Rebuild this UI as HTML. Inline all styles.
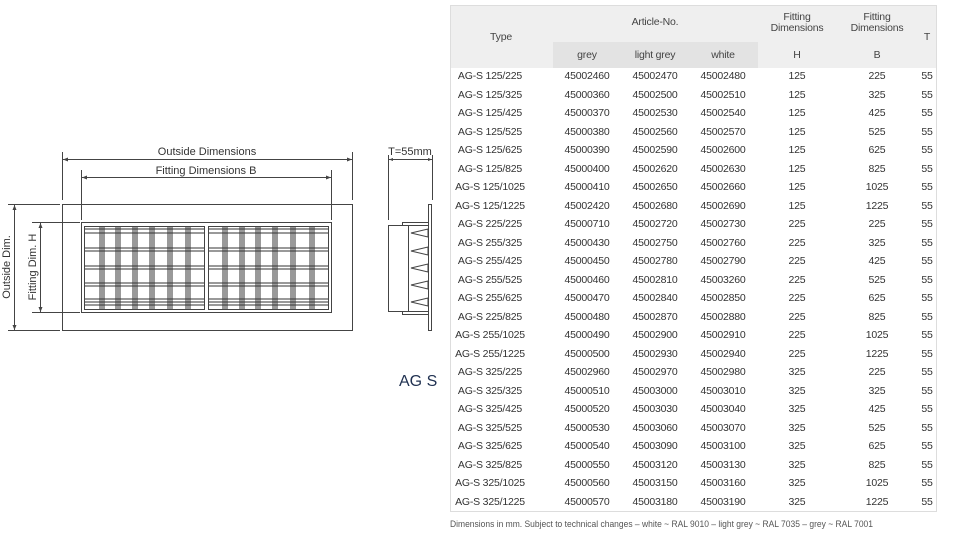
<!DOCTYPE html>
<html><head><meta charset="utf-8"><style>
body{margin:0;width:975px;height:538px;background:#fff;position:relative;overflow:hidden;font-family:"Liberation Sans",sans-serif}
.c{position:absolute;width:80px;text-align:center;font-size:10.5px;color:#333;line-height:12px;letter-spacing:-0.2px}
.h{color:#444}
</style></head><body>
<svg width="975" height="538" style="position:absolute;left:0;top:0" font-family="Liberation Sans, sans-serif">
<g stroke="#444" fill="none" stroke-width="1">
<rect x="62.5" y="204.5" width="290" height="126"/>
<rect x="81.5" y="222.5" width="250" height="90"/>
<rect x="84.5" y="226.5" width="120" height="83"/>
<rect x="208.5" y="226.5" width="120" height="83"/>
<line x1="62.5" y1="152" x2="62.5" y2="200"/><line x1="352.5" y1="152" x2="352.5" y2="200"/>
<line x1="63" y1="159.5" x2="352" y2="159.5"/>
<line x1="81.5" y1="170" x2="81.5" y2="220"/><line x1="331.5" y1="170" x2="331.5" y2="220"/>
<line x1="82" y1="177.5" x2="331" y2="177.5"/>
<line x1="8" y1="204.5" x2="60" y2="204.5"/><line x1="8" y1="330.5" x2="60" y2="330.5"/>
<line x1="14.5" y1="205" x2="14.5" y2="330"/>
<line x1="32" y1="222.5" x2="80" y2="222.5"/><line x1="32" y1="312.5" x2="80" y2="312.5"/>
<line x1="40.5" y1="223" x2="40.5" y2="312"/>
<line x1="388.5" y1="155" x2="388.5" y2="220"/><line x1="432.5" y1="155" x2="432.5" y2="200"/>
<line x1="389" y1="159.5" x2="432" y2="159.5"/>
<rect x="428.5" y="204.5" width="3" height="126"/>
<rect x="388.5" y="225.5" width="20" height="86"/>
<polyline points="402.5,225 402.5,222.5 428,222.5"/>
<polyline points="402.5,312 402.5,314.5 428,314.5"/>
<line x1="408" y1="225.5" x2="428" y2="225.5"/><line x1="408" y1="311.5" x2="428" y2="311.5"/>
<polygon points="411,233 428,229 428,237"/>
<polygon points="411,251 428,247 428,255"/>
<polygon points="411,268 428,264 428,272"/>
<polygon points="411,285 428,281 428,289"/>
<polygon points="411,302 428,298 428,306"/>
</g>
<g fill="#444">
<polygon points="63,159.5 68,157.5 68,161.5"/><polygon points="352,159.5 347,157.5 347,161.5"/>
<polygon points="82,177.5 87,175.5 87,179.5"/><polygon points="331,177.5 326,175.5 326,179.5"/>
<polygon points="14.5,205 12.5,210 16.5,210"/><polygon points="14.5,330 12.5,325 16.5,325"/>
<polygon points="40.5,223 38.5,228 42.5,228"/><polygon points="40.5,312 38.5,307 42.5,307"/>
<polygon points="389,159.5 393,158 393,161"/><polygon points="432,159.5 428,158 428,161"/>
</g>
<g stroke="#333" stroke-width="1" fill="none">
<path d="M85 229H204M85 233H204M85 248H204M85 251H204M85 266H204M85 269H204M85 283H204M85 286H204M85 299H204M85 302H204M85 305H204"/>
<path d="M209 229H328M209 233H328M209 248H328M209 251H328M209 266H328M209 269H328M209 283H328M209 286H328M209 299H328M209 302H328M209 305H328"/>
<path d="M100 227V309M102 227V309M104 227V309M116 227V309M118 227V309M120 227V309M133 227V309M135 227V309M137 227V309M150 227V309M152 227V309M154 227V309M168 227V309M170 227V309M172 227V309M186 227V309M188 227V309M190 227V309"/>
<path d="M223 227V309M225 227V309M227 227V309M240 227V309M242 227V309M244 227V309M256 227V309M258 227V309M260 227V309M273 227V309M275 227V309M277 227V309M291 227V309M293 227V309M295 227V309M310 227V309M312 227V309M314 227V309"/>
</g>
<g fill="#333" font-size="11">
<text x="207" y="155" text-anchor="middle">Outside Dimensions</text>
<text x="206" y="174" text-anchor="middle">Fitting Dimensions B</text>
<text x="410" y="155" text-anchor="middle">T=55mm</text>
<text transform="translate(10,267) rotate(-90)" text-anchor="middle">Outside Dim.</text>
<text transform="translate(36,267) rotate(-90)" text-anchor="middle">Fitting Dim. H</text>
</g>
<text x="399" y="386" font-size="16" fill="#1f3050">AG S</text>
<rect x="450.5" y="5.5" width="486" height="506" fill="none" stroke="#ddd"/>
<rect x="451" y="6" width="485" height="62" fill="#efefef"/>
<rect x="553" y="42" width="205" height="26" fill="#e3e3e3"/>
<text x="450" y="527" font-size="9.5" fill="#555" textLength="423" lengthAdjust="spacingAndGlyphs">Dimensions in mm. Subject to technical changes – white ~ RAL 9010 – light grey ~ RAL 7035 – grey ~ RAL 7001</text>
</svg>
<div class="c h" style="left:461px;top:31px">Type</div>
<div class="c h" style="left:615px;top:16px">Article-No.</div>
<div class="c h" style="left:547px;top:49px">grey</div>
<div class="c h" style="left:615px;top:49px">light grey</div>
<div class="c h" style="left:683px;top:49px">white</div>
<div class="c h" style="left:757px;top:12px;line-height:11px">Fitting<br>Dimensions</div>
<div class="c h" style="left:837px;top:12px;line-height:11px">Fitting<br>Dimensions</div>
<div class="c h" style="left:757px;top:49px">H</div>
<div class="c h" style="left:837px;top:49px">B</div>
<div class="c h" style="left:887px;top:31px">T</div>
<div style="position:absolute;left:0;top:0">
<div class="c" style="left:450px;top:70px">AG-S 125/225</div><div class="c" style="left:547px;top:70px">45002460</div><div class="c" style="left:615px;top:70px">45002470</div><div class="c" style="left:683px;top:70px">45002480</div><div class="c" style="left:757px;top:70px">125</div><div class="c" style="left:837px;top:70px">225</div><div class="c" style="left:887px;top:70px">55</div>
<div class="c" style="left:450px;top:89px">AG-S 125/325</div><div class="c" style="left:547px;top:89px">45000360</div><div class="c" style="left:615px;top:89px">45002500</div><div class="c" style="left:683px;top:89px">45002510</div><div class="c" style="left:757px;top:89px">125</div><div class="c" style="left:837px;top:89px">325</div><div class="c" style="left:887px;top:89px">55</div>
<div class="c" style="left:450px;top:107px">AG-S 125/425</div><div class="c" style="left:547px;top:107px">45000370</div><div class="c" style="left:615px;top:107px">45002530</div><div class="c" style="left:683px;top:107px">45002540</div><div class="c" style="left:757px;top:107px">125</div><div class="c" style="left:837px;top:107px">425</div><div class="c" style="left:887px;top:107px">55</div>
<div class="c" style="left:450px;top:126px">AG-S 125/525</div><div class="c" style="left:547px;top:126px">45000380</div><div class="c" style="left:615px;top:126px">45002560</div><div class="c" style="left:683px;top:126px">45002570</div><div class="c" style="left:757px;top:126px">125</div><div class="c" style="left:837px;top:126px">525</div><div class="c" style="left:887px;top:126px">55</div>
<div class="c" style="left:450px;top:144px">AG-S 125/625</div><div class="c" style="left:547px;top:144px">45000390</div><div class="c" style="left:615px;top:144px">45002590</div><div class="c" style="left:683px;top:144px">45002600</div><div class="c" style="left:757px;top:144px">125</div><div class="c" style="left:837px;top:144px">625</div><div class="c" style="left:887px;top:144px">55</div>
<div class="c" style="left:450px;top:163px">AG-S 125/825</div><div class="c" style="left:547px;top:163px">45000400</div><div class="c" style="left:615px;top:163px">45002620</div><div class="c" style="left:683px;top:163px">45002630</div><div class="c" style="left:757px;top:163px">125</div><div class="c" style="left:837px;top:163px">825</div><div class="c" style="left:887px;top:163px">55</div>
<div class="c" style="left:450px;top:181px">AG-S 125/1025</div><div class="c" style="left:547px;top:181px">45000410</div><div class="c" style="left:615px;top:181px">45002650</div><div class="c" style="left:683px;top:181px">45002660</div><div class="c" style="left:757px;top:181px">125</div><div class="c" style="left:837px;top:181px">1025</div><div class="c" style="left:887px;top:181px">55</div>
<div class="c" style="left:450px;top:200px">AG-S 125/1225</div><div class="c" style="left:547px;top:200px">45002420</div><div class="c" style="left:615px;top:200px">45002680</div><div class="c" style="left:683px;top:200px">45002690</div><div class="c" style="left:757px;top:200px">125</div><div class="c" style="left:837px;top:200px">1225</div><div class="c" style="left:887px;top:200px">55</div>
<div class="c" style="left:450px;top:218px">AG-S 225/225</div><div class="c" style="left:547px;top:218px">45000710</div><div class="c" style="left:615px;top:218px">45002720</div><div class="c" style="left:683px;top:218px">45002730</div><div class="c" style="left:757px;top:218px">225</div><div class="c" style="left:837px;top:218px">225</div><div class="c" style="left:887px;top:218px">55</div>
<div class="c" style="left:450px;top:237px">AG-S 255/325</div><div class="c" style="left:547px;top:237px">45000430</div><div class="c" style="left:615px;top:237px">45002750</div><div class="c" style="left:683px;top:237px">45002760</div><div class="c" style="left:757px;top:237px">225</div><div class="c" style="left:837px;top:237px">325</div><div class="c" style="left:887px;top:237px">55</div>
<div class="c" style="left:450px;top:255px">AG-S 255/425</div><div class="c" style="left:547px;top:255px">45000450</div><div class="c" style="left:615px;top:255px">45002780</div><div class="c" style="left:683px;top:255px">45002790</div><div class="c" style="left:757px;top:255px">225</div><div class="c" style="left:837px;top:255px">425</div><div class="c" style="left:887px;top:255px">55</div>
<div class="c" style="left:450px;top:274px">AG-S 255/525</div><div class="c" style="left:547px;top:274px">45000460</div><div class="c" style="left:615px;top:274px">45002810</div><div class="c" style="left:683px;top:274px">45003260</div><div class="c" style="left:757px;top:274px">225</div><div class="c" style="left:837px;top:274px">525</div><div class="c" style="left:887px;top:274px">55</div>
<div class="c" style="left:450px;top:292px">AG-S 255/625</div><div class="c" style="left:547px;top:292px">45000470</div><div class="c" style="left:615px;top:292px">45002840</div><div class="c" style="left:683px;top:292px">45002850</div><div class="c" style="left:757px;top:292px">225</div><div class="c" style="left:837px;top:292px">625</div><div class="c" style="left:887px;top:292px">55</div>
<div class="c" style="left:450px;top:311px">AG-S 225/825</div><div class="c" style="left:547px;top:311px">45000480</div><div class="c" style="left:615px;top:311px">45002870</div><div class="c" style="left:683px;top:311px">45002880</div><div class="c" style="left:757px;top:311px">225</div><div class="c" style="left:837px;top:311px">825</div><div class="c" style="left:887px;top:311px">55</div>
<div class="c" style="left:450px;top:329px">AG-S 255/1025</div><div class="c" style="left:547px;top:329px">45000490</div><div class="c" style="left:615px;top:329px">45002900</div><div class="c" style="left:683px;top:329px">45002910</div><div class="c" style="left:757px;top:329px">225</div><div class="c" style="left:837px;top:329px">1025</div><div class="c" style="left:887px;top:329px">55</div>
<div class="c" style="left:450px;top:348px">AG-S 255/1225</div><div class="c" style="left:547px;top:348px">45000500</div><div class="c" style="left:615px;top:348px">45002930</div><div class="c" style="left:683px;top:348px">45002940</div><div class="c" style="left:757px;top:348px">225</div><div class="c" style="left:837px;top:348px">1225</div><div class="c" style="left:887px;top:348px">55</div>
<div class="c" style="left:450px;top:366px">AG-S 325/225</div><div class="c" style="left:547px;top:366px">45002960</div><div class="c" style="left:615px;top:366px">45002970</div><div class="c" style="left:683px;top:366px">45002980</div><div class="c" style="left:757px;top:366px">325</div><div class="c" style="left:837px;top:366px">225</div><div class="c" style="left:887px;top:366px">55</div>
<div class="c" style="left:450px;top:385px">AG-S 325/325</div><div class="c" style="left:547px;top:385px">45000510</div><div class="c" style="left:615px;top:385px">45003000</div><div class="c" style="left:683px;top:385px">45003010</div><div class="c" style="left:757px;top:385px">325</div><div class="c" style="left:837px;top:385px">325</div><div class="c" style="left:887px;top:385px">55</div>
<div class="c" style="left:450px;top:403px">AG-S 325/425</div><div class="c" style="left:547px;top:403px">45000520</div><div class="c" style="left:615px;top:403px">45003030</div><div class="c" style="left:683px;top:403px">45003040</div><div class="c" style="left:757px;top:403px">325</div><div class="c" style="left:837px;top:403px">425</div><div class="c" style="left:887px;top:403px">55</div>
<div class="c" style="left:450px;top:422px">AG-S 325/525</div><div class="c" style="left:547px;top:422px">45000530</div><div class="c" style="left:615px;top:422px">45003060</div><div class="c" style="left:683px;top:422px">45003070</div><div class="c" style="left:757px;top:422px">325</div><div class="c" style="left:837px;top:422px">525</div><div class="c" style="left:887px;top:422px">55</div>
<div class="c" style="left:450px;top:440px">AG-S 325/625</div><div class="c" style="left:547px;top:440px">45000540</div><div class="c" style="left:615px;top:440px">45003090</div><div class="c" style="left:683px;top:440px">45003100</div><div class="c" style="left:757px;top:440px">325</div><div class="c" style="left:837px;top:440px">625</div><div class="c" style="left:887px;top:440px">55</div>
<div class="c" style="left:450px;top:459px">AG-S 325/825</div><div class="c" style="left:547px;top:459px">45000550</div><div class="c" style="left:615px;top:459px">45003120</div><div class="c" style="left:683px;top:459px">45003130</div><div class="c" style="left:757px;top:459px">325</div><div class="c" style="left:837px;top:459px">825</div><div class="c" style="left:887px;top:459px">55</div>
<div class="c" style="left:450px;top:477px">AG-S 325/1025</div><div class="c" style="left:547px;top:477px">45000560</div><div class="c" style="left:615px;top:477px">45003150</div><div class="c" style="left:683px;top:477px">45003160</div><div class="c" style="left:757px;top:477px">325</div><div class="c" style="left:837px;top:477px">1025</div><div class="c" style="left:887px;top:477px">55</div>
<div class="c" style="left:450px;top:496px">AG-S 325/1225</div><div class="c" style="left:547px;top:496px">45000570</div><div class="c" style="left:615px;top:496px">45003180</div><div class="c" style="left:683px;top:496px">45003190</div><div class="c" style="left:757px;top:496px">325</div><div class="c" style="left:837px;top:496px">1225</div><div class="c" style="left:887px;top:496px">55</div>
</div>
</body></html>
